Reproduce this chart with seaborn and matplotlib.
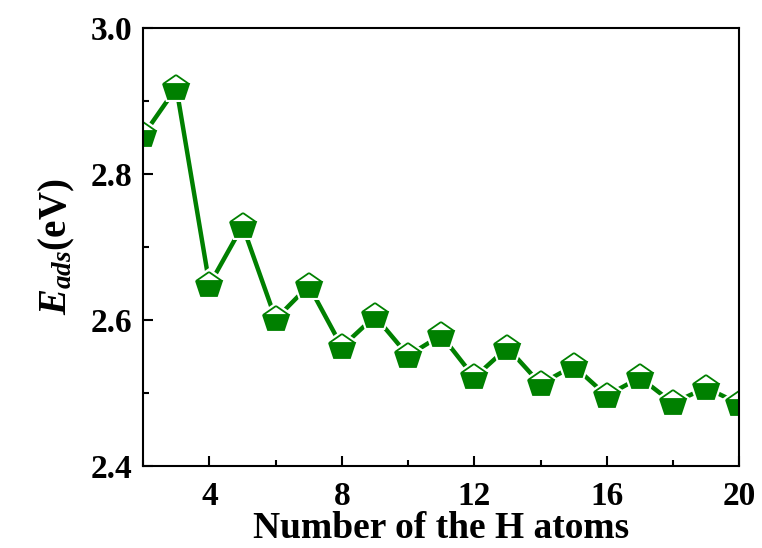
import numpy as np
import pandas as pd
import seaborn as sns
import matplotlib.pyplot as plt
from matplotlib.ticker import MultipleLocator

n_atoms = [2, 3, 4, 5, 6, 7, 8, 9, 10, 11, 12, 13, 14, 15, 16, 17, 18, 19, 20]
e_ads = [2.853, 2.918, 2.648, 2.729, 2.601, 2.647, 2.563, 2.605, 2.551, 2.579,
         2.521, 2.562, 2.512, 2.537, 2.496, 2.521, 2.486, 2.507, 2.485]

df = pd.DataFrame({"N": n_atoms, "E": e_ads})

sns.set_style("ticks")
plt.rcParams["font.family"] = "Liberation Serif"
plt.rcParams["font.weight"] = "bold"
plt.rcParams["text.color"] = "black"
plt.rcParams["axes.labelcolor"] = "black"
plt.rcParams["xtick.color"] = "black"
plt.rcParams["ytick.color"] = "black"
plt.rcParams["mathtext.fontset"] = "custom"
plt.rcParams["mathtext.it"] = "Liberation Serif:italic:bold"
plt.rcParams["mathtext.rm"] = "Liberation Serif:bold"

fig = plt.figure(figsize=(7.62, 5.48), dpi=100)
ax = fig.add_axes([0.188, 0.150, 0.782, 0.799])

green = "#008000"
# connecting line
sns.lineplot(data=df, x="N", y="E", ax=ax, color=green, linewidth=3.2)
# white halo so the line stops short of each marker (Origin style)
sns.lineplot(data=df, x="N", y="E", ax=ax, color="white", linestyle="",
             marker="p", markersize=25, markeredgewidth=0)
# half-filled pentagons
sns.lineplot(data=df, x="N", y="E", ax=ax, color=green, linestyle="",
             marker="p", markersize=19, fillstyle="bottom",
             markerfacecolor=green, markerfacecoloralt="white",
             markeredgecolor=green, markeredgewidth=1.3)

ax.set_xlim(2, 20)
ax.set_ylim(2.4, 3.0)
ax.xaxis.set_minor_locator(MultipleLocator(2))
ax.yaxis.set_minor_locator(MultipleLocator(0.1))
ax.tick_params(which="both", direction="in", width=1.5, labelsize=24,
               labelcolor="black")
ax.tick_params(axis="x", pad=11)
ax.tick_params(axis="y", pad=8)
ax.tick_params(which="major", length=7)
ax.tick_params(which="minor", length=4)
ax.set_xticks([4, 8, 12, 16, 20])
ax.set_xticklabels(["4", "8", "12", "16", "20"], fontweight="bold")
ax.set_yticks([2.4, 2.6, 2.8, 3.0])
ax.set_yticklabels(["2.4", "2.6", "2.8", "3.0"], fontweight="bold")
for s in ax.spines.values():
    s.set_linewidth(1.5)
    s.set_color("black")

ax.set_xlabel("Number of the H atoms", fontsize=27, fontweight="bold", labelpad=-1)
ax.set_ylabel(r"$E_{ads}$(eV)", fontsize=28, fontweight="bold", labelpad=10)

fig.savefig("out.png", dpi=100)
